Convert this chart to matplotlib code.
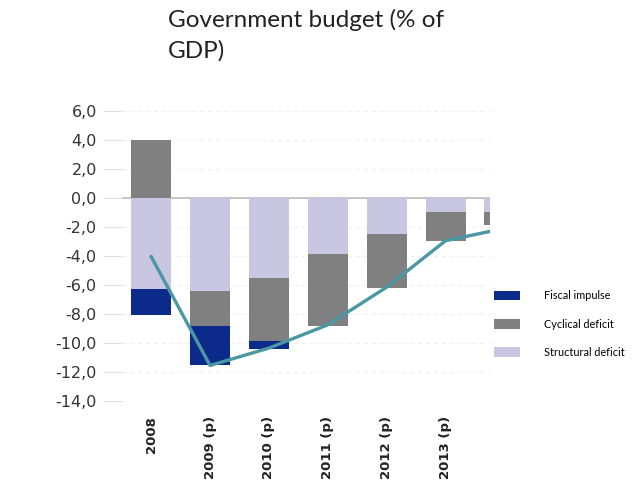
import matplotlib
matplotlib.use("Agg")
import matplotlib.pyplot as plt
import numpy as np

years = ["2008", "2009 (p)", "2010 (p)", "2011 (p)", "2012 (p)", "2013 (p)", ""]
structural = [-6.3, -6.45, -5.5, -3.9, -2.5, -1.0, -0.95]
cyclical = [4.0, -2.4, -4.35, -4.9, -3.7, -1.95, -0.9]
fiscal = [-1.75, -2.7, -0.55, 0.0, 0.0, 0.0, 0.0]
total = [-4.05, -11.55, -10.35, -8.75, -6.15, -2.95, -2.1]
yticks = [6, 4, 2, 0, -2, -4, -6, -8, -10, -12, -14]

c_fiscal = "#0c2a8a"
c_cyc = "#808080"
c_struct = "#c8c6e0"
c_line = "#4a98a3"

fig = plt.figure(figsize=(6.41, 4.8), dpi=100)
ax = fig.add_axes([0.19, 0.1646, 0.574, 0.6044])
ax.set_axisbelow(True)

x = np.arange(len(years))
w = 0.68
structural = np.array(structural)
cyclical = np.array(cyclical)
fiscal = np.array(fiscal)

# negative parts stack downward: structural, then cyclical, then fiscal impulse
cyc_bottom = np.where(cyclical < 0, structural, 0)
fis_bottom = structural + np.minimum(cyclical, 0)

ax.axhline(0, color="#bbbbbb", lw=1.2, zorder=1.5)
ax.bar(x, structural, w, color=c_struct, label="Structural deficit", zorder=2)
ax.bar(x, cyclical, w, bottom=cyc_bottom, color=c_cyc, label="Cyclical deficit", zorder=2)
ax.bar(x, fiscal, w, bottom=fis_bottom, color=c_fiscal, label="Fiscal impulse", zorder=2)
ax.plot(x, total, color=c_line, lw=2.4, zorder=3)

ax.set_xlim(-0.5, 5.75)
ax.set_ylim(-14, 6)
ax.set_yticks(yticks)
ax.set_yticklabels([("%.1f" % v).replace(".", ",") for v in yticks])
ax.yaxis.grid(True, color="#f0f0f0", lw=0.8, ls=(0, (4, 3)))
ax.set_xticks(x[:6])
ax.set_xticklabels(years[:6], rotation=90, fontsize=9.5, fontweight="bold", color="#222222")
ax.tick_params(axis="x", length=0, pad=11)
ax.tick_params(axis="y", length=14, color="#e0e0e0", labelsize=11.5, labelcolor="#333333", pad=4)
for s in ax.spines.values():
    s.set_visible(False)

handles, labels = ax.get_legend_handles_labels()
fig.legend(handles[::-1], labels[::-1], loc="center left", bbox_to_anchor=(0.755, 0.325),
           frameon=False, handlelength=2.4, handleheight=1.0,
           labelspacing=1.6, handletextpad=2.2,
           prop={"family": "Lato", "size": 7.8})

fig.text(0.262, 0.982, "Government budget (% of\nGDP)", fontsize=17.5, color="#222222",
         family="Lato", va="top", ha="left", linespacing=1.55)

fig.savefig("out.png", dpi=100)
